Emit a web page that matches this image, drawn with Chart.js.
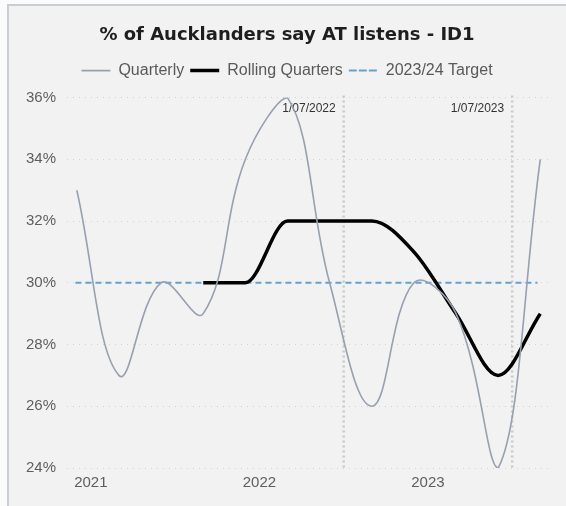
<!DOCTYPE html>
<html lang="en">
<head>
    <meta charset="UTF-8">
    <title>% of Aucklanders say AT listens - ID1</title>
    <style>
        body { margin: 0; background: #fbfbfb; }
        .frame {
            position: absolute; left: 7px; top: 4px;
            width: 557px; height: 500px;
            border-left: 2px solid #c9cdd4; border-top: 2px solid #c9cdd4;
            background: #f2f2f2;
        }
    </style>
</head>
<body>
    <div class="frame"><canvas id="grafica" width="557" height="500"></canvas></div>

    <script src="https://cdn.jsdelivr.net/npm/chart.js@4.4.0/dist/chart.umd.min.js"></script>
    <script>
        // months counted from Jan 2020 (12 = Jan 2021)
        const quarterMonths = [11, 14, 17, 20, 23, 26, 29, 32, 35, 38, 41, 44];
        const quarterly = [33, 27, 30, 29, 34, 36, 30, 26, 30, 29, 24, 34];
        const rollingMonths = [20, 23, 26, 29, 32, 35, 38, 41, 44];
        const rolling = [30, 30, 32, 32, 32, 31, 29, 27, 29];
        const targetMonths = [10.9, 43.8];
        const target = [30, 30];
        const yearTicks = [12, 24, 36];
        const yearLabels = ['2021', '2022', '2023'];
        const markerMonths = [30, 42];
        const markerLabels = ['1/07/2022', '1/07/2023'];

        const font = "'Liberation Sans', Arial, sans-serif";

        // lineas verticales de fecha
        const markers = {
            id: 'markers',
            beforeInit(chart) {
                // espacio extra bajo la leyenda
                const fit = chart.legend.fit;
                chart.legend.fit = function () {
                    fit.bind(chart.legend)();
                    this.height += 9;
                };
            },
            beforeDatasetsDraw(chart) {
                const c = chart.ctx, x = chart.scales.x, a = chart.chartArea;
                c.save();
                markerMonths.forEach((m, i) => {
                    const px = x.getPixelForValue(m);
                    c.strokeStyle = '#c8c8c8';
                    c.lineWidth = 2.5;
                    c.setLineDash([2, 3]);
                    c.beginPath();
                    c.moveTo(px, a.top - 2);
                    c.lineTo(px, a.bottom);
                    c.stroke();
                    c.setLineDash([]);
                    c.fillStyle = '#333333';
                    c.font = '12px ' + font;
                    c.textAlign = 'right';
                    c.textBaseline = 'middle';
                    c.fillText(markerLabels[i], px - 8, a.top + 11);
                });
                c.restore();
            }
        };

        const ctx = document.getElementById('grafica').getContext('2d');
        const grafica = new Chart(ctx, {
            type: 'line',
            data: {
                datasets: [{
                    label: 'Quarterly',
                    data: quarterMonths.map((m, i) => ({ x: m, y: quarterly[i] })),
                    borderColor: '#97a0b0',
                    backgroundColor: 'transparent',
                    borderWidth: 1.6,
                    tension: 0.4,
                    pointRadius: 0
                }, {
                    label: 'Rolling Quarters',
                    data: rollingMonths.map((m, i) => ({ x: m, y: rolling[i] })),
                    borderColor: '#000000',
                    backgroundColor: 'transparent',
                    borderWidth: 3.5,
                    cubicInterpolationMode: 'monotone',
                    pointRadius: 0
                }, {
                    label: '2023/24 Target',
                    data: targetMonths.map((m, i) => ({ x: m, y: target[i] })),
                    borderColor: '#5fa3d6',
                    backgroundColor: 'transparent',
                    borderWidth: 2,
                    borderDash: [6, 4],
                    pointRadius: 0
                }]
            },
            options: {
                responsive: false,
                animation: false,
                layout: { padding: { top: 8, right: 18, left: 17, bottom: 0 } },
                plugins: {
                    title: {
                        display: true,
                        text: '% of Aucklanders say AT listens - ID1',
                        color: '#1e1e1e',
                        font: { family: "'DejaVu Sans', sans-serif", size: 18, weight: 'bold' },
                        padding: { top: 11, bottom: 10 }
                    },
                    legend: {
                        labels: {
                            boxWidth: 29,
                            boxHeight: 0,
                            color: '#595959',
                            font: { family: font, size: 16 },
                            padding: 6
                        }
                    },
                    tooltip: { enabled: false }
                },
                scales: {
                    x: {
                        type: 'linear',
                        min: 10.3,
                        max: 44.55,
                        afterBuildTicks: axis => { axis.ticks = yearTicks.map(v => ({ value: v })); },
                        afterFit: axis => { axis.height = 38; },
                        ticks: {
                            callback: v => yearLabels[yearTicks.indexOf(v)],
                            color: '#605e5c',
                            font: { family: font, size: 15 },
                            padding: 6,
                            maxRotation: 0
                        },
                        grid: { display: false, drawTicks: false },
                        border: { display: false }
                    },
                    y: {
                        min: 24,
                        max: 36,
                        afterFit: axis => { axis.width = 41; },
                        ticks: {
                            stepSize: 2,
                            callback: v => v + '%',
                            color: '#605e5c',
                            font: { family: font, size: 15 },
                            crossAlign: 'far',
                            padding: 11
                        },
                        grid: { color: '#d0d0d0', drawTicks: false, lineWidth: 1 },
                        border: { display: false, dash: [1, 5] }
                    }
                }
            },
            plugins: [markers]
        });
    </script>
</body>
</html>
